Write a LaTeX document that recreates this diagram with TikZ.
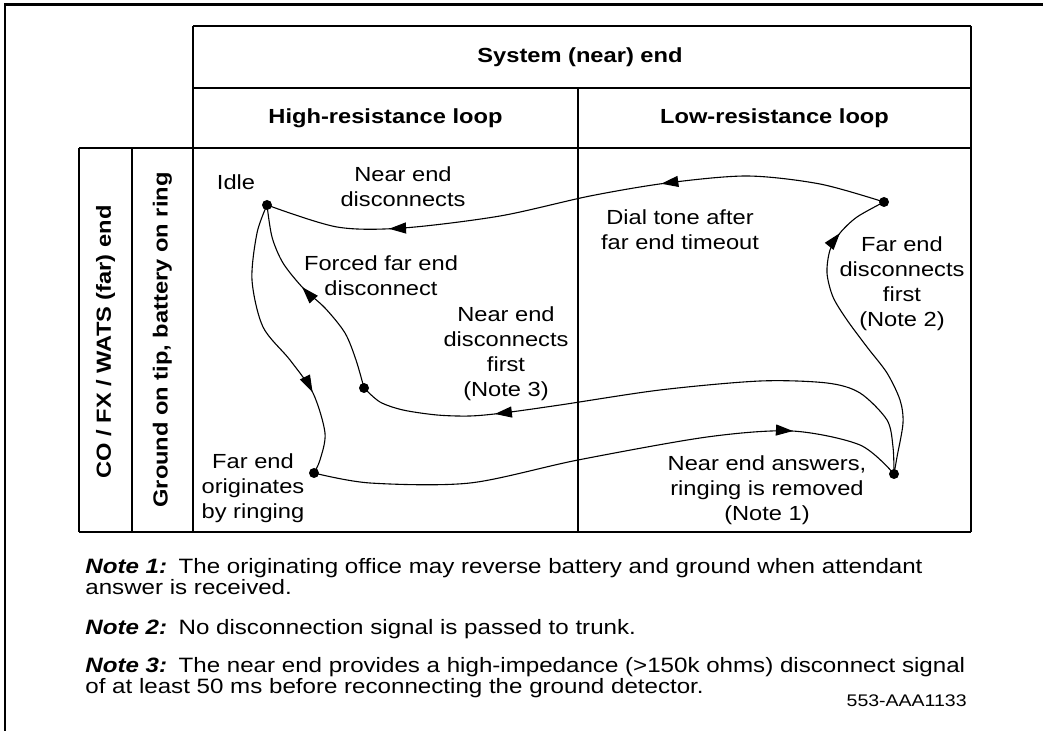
\documentclass[tikz,border=0pt]{standalone}
\usepackage{fontspec}
\setmainfont{Liberation Sans}[FakeStretch=1.16]
\usetikzlibrary{arrows.meta,decorations.markings}
\tikzset{
  grid/.style={line width=0.55pt},
  frame/.style={line width=1.4pt},
  flow/.style={line width=0.55pt},
  dot/.style={circle,fill=black,inner sep=0pt,minimum size=5pt},
  txt/.style={font=\fontsize{10.2}{12.5}\selectfont,align=center,inner sep=0pt},
  head/.style={font=\fontsize{10.2}{12.5}\selectfont\bfseries,align=center,inner sep=0pt},
  note/.style={font=\fontsize{10.4}{10.5}\selectfont,align=left,inner sep=0pt,anchor=base west},
  tip/.style={postaction={decorate,decoration={markings,
    mark=at position #1 with {\arrow{>}}}}}
}

\begin{document}
\begin{tikzpicture}[x=0.5pt,y=-0.5pt,>={Triangle[length=8.5pt,width=5.5pt]}]
  \useasboundingbox (0,0) rectangle (1043,731);
  % page frame
  \draw[frame] (5,731) -- (5,4.7) -- (1043,4.7);
  % table
  \draw[grid] (193,26) -- (971,26) (193,88) -- (971,88)
    (79,148) -- (971,148) (79,532) -- (971,532);
  \draw[grid] (193,26) -- (193,532) (971,26) -- (971,532)
    (578,88) -- (578,532) (79,148) -- (79,532) (132,148) -- (132,532);

  % headers
  \node[head] (sys) at (580,57) {System (near) end};
  \node[head] (hi) at (385.5,118) {High-resistance loop};
  \node[head] (lo) at (774.5,118) {Low-resistance loop};
  \node[head,rotate=90] (far) at (105.5,342) {CO / FX / WATS (far) end};
  \node[head,rotate=90] (gnd) at (162.5,340) {Ground on tip, battery on ring};

  % states
  \node[dot] (idle) at (267,205) {};
  \node[dot] (ndisc) at (364,388) {};
  \node[dot] (orig) at (314,473) {};
  \node[dot] (answer) at (894,474) {};
  \node[dot] (fdisc) at (884,202) {};

  % transitions
  \draw[flow,tip=.36,tip=.8] plot[smooth] coordinates {(fdisc.center) (820,184)
    (747,176) (667,183) (590,196) (500,216) (403,228) (337,227) (idle.center)};
  \draw[flow,tip=.83] plot[smooth] coordinates {(answer.center) (897,457)
    (903,423) (900,400) (887,373) (867,347) (847,320) (833,297) (827,273)
    (830,250) (840,233) (857,217) (fdisc.center)};
  \draw[flow,tip=.77] plot[smooth] coordinates {(answer.center) (893,447)
    (887,420) (860,393) (827,383) (760,381) (660,390) (560,405) (503,413)
    (470,416) (437,415) (403,410) (380,402) (ndisc.center)};
  \draw[flow,tip=.57] plot[smooth] coordinates {(ndisc.center) (356,360)
    (345,333) (325,308) (303,288) (283,263) (272,237) (idle.center)};
  \draw[flow,tip=.71] plot[smooth] coordinates {(idle.center) (257,233)
    (252,280) (263,327) (290,360) (313,393) (325,433) (320,460) (orig.center)};
  \draw[flow,tip=.81] plot[smooth] coordinates {(orig.center) (370,483)
    (470,483) (578,460) (707,437) (792,431) (860,445) (answer.center)};

  % state and transition labels
  \node[txt] (idlel) at (236,182.5) {Idle};
  \node[txt] (nedl) at (403,187) {Near end\\disconnects};
  \node[txt] (dtl) at (680,230) {Dial tone after\\far end timeout};
  \node[txt] (fedl) at (902,284) {Far end\\disconnects\\first\\(Note 2)};
  \node[txt] (ffl) at (381,275.5) {Forced far end\\disconnect};
  \node[txt] (nefl) at (506,353.5) {Near end\\disconnects\\first\\(Note 3)};
  \node[txt] (nal) at (767,490) {Near end answers,\\ringing is removed\\(Note 1)};
  \node[txt] (feol) at (253,488) {Far end\\originates\\by ringing};

  % notes (base = last line)
  \node[note] (note1) at (85,594) {\textbf{\textit{Note 1:}}\hspace{0.55em}The
    originating office may reverse battery and ground when attendant\\answer
    is received.};
  \node[note] (note2) at (85,634) {\textbf{\textit{Note 2:}}\hspace{0.55em}No
    disconnection signal is passed to trunk.};
  \node[note] (note3) at (85,693) {\textbf{\textit{Note 3:}}\hspace{0.55em}The
    near end provides a high-impedance (>150k ohms) disconnect signal\\of at
    least 50 ms before reconnecting the ground detector.};
  \node[font=\fontsize{8.4}{10}\selectfont,anchor=base east,inner sep=0pt]
    (figid) at (967,706) {553-AAA1133};
\end{tikzpicture}
\end{document}
